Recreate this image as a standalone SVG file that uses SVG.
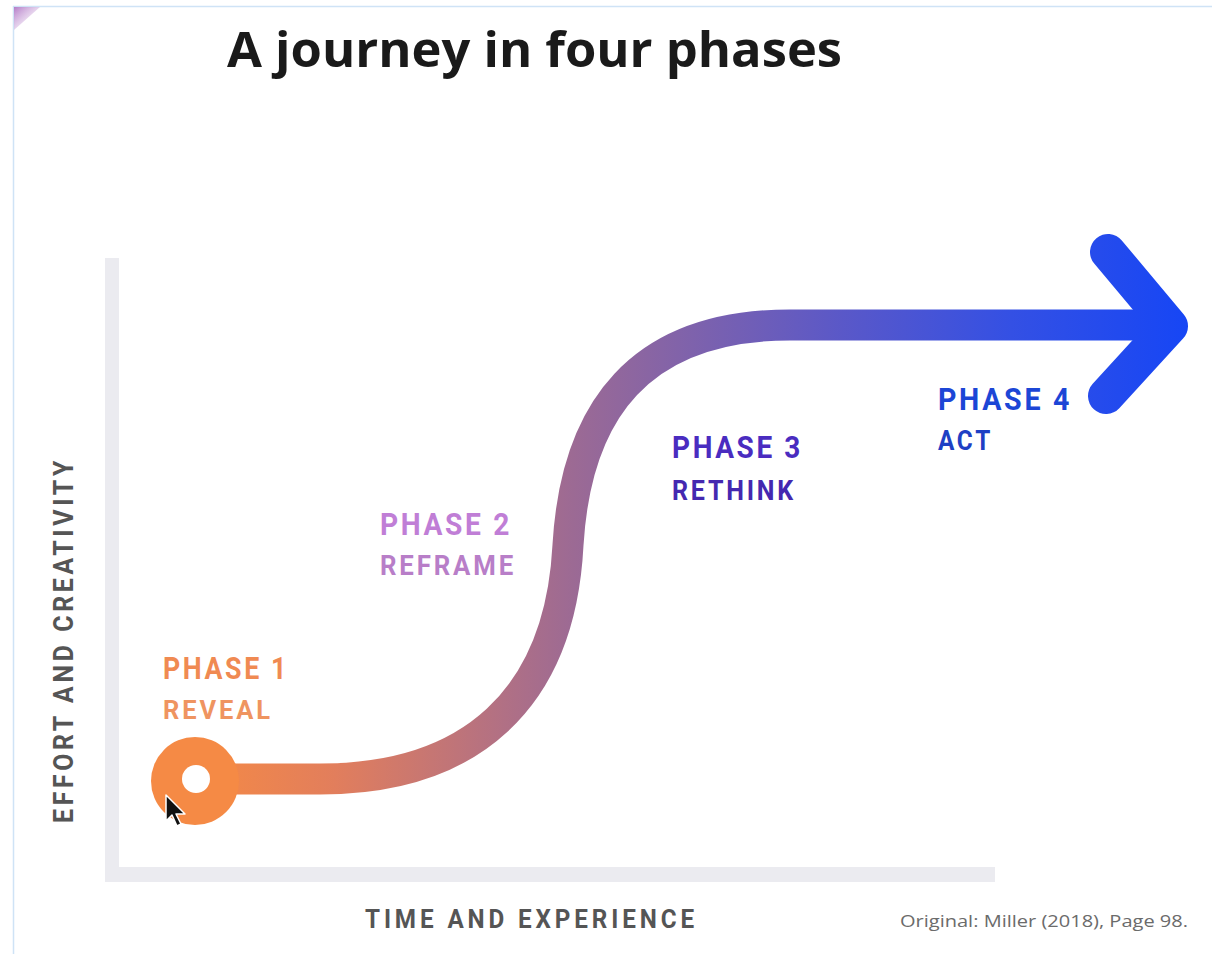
<svg xmlns="http://www.w3.org/2000/svg" width="1212" height="954" viewBox="0 0 1212 954">
  <defs>
    <linearGradient id="flow" gradientUnits="userSpaceOnUse" x1="195" y1="0" x2="1190" y2="0">
      <stop offset="0" stop-color="#f58a45"/>
      <stop offset="0.14" stop-color="#e27e5c"/>
      <stop offset="0.3" stop-color="#b47182"/>
      <stop offset="0.38" stop-color="#9c6a94"/>
      <stop offset="0.5" stop-color="#7e62ac"/>
      <stop offset="0.65" stop-color="#5a58c8"/>
      <stop offset="0.82" stop-color="#3450e4"/>
      <stop offset="1" stop-color="#1646f5"/>
    </linearGradient>
    <linearGradient id="corner" x1="0" y1="0" x2="1" y2="1">
      <stop offset="0" stop-color="#b47cc8"/>
      <stop offset="1" stop-color="#e8d8f0" stop-opacity="0"/>
    </linearGradient>
    <style>
      .title { font-family: "Open Sans", "Liberation Sans", sans-serif; font-weight: 700; fill: #1a1a1a; }
      .axis { font-family: Roboto, "Liberation Sans", sans-serif; font-weight: 700; fill: #555555; letter-spacing: 4px; }
      .ph { font-family: Roboto, "Liberation Sans", sans-serif; font-weight: 700; letter-spacing: 3px; }
      .credit { font-family: "Open Sans", "Liberation Sans", sans-serif; font-weight: 400; fill: #6b6b6b; }
      .bar { fill: #ebebf0; }
      .flow { fill: none; stroke: url(#flow); stroke-width: 31; }
    </style>
  </defs>

  <rect x="0" y="0" width="1212" height="954" fill="#ffffff"/>
  <g id="frame">
    <line x1="13.5" y1="6" x2="13.5" y2="954" stroke="#cfe3f6" stroke-width="1.5"/>
    <line x1="13" y1="6.5" x2="1212" y2="6.5" stroke="#cfe3f6" stroke-width="1.5"/>
    <polygon points="14,7 40,7 14,30" fill="url(#corner)"/>
  </g>

  <g id="title">
    <text class="title" x="227" y="67" font-size="49" textLength="615" lengthAdjust="spacingAndGlyphs">A journey in four phases</text>
  </g>

  <g id="axes">
    <rect class="bar" x="105" y="258" width="14" height="624"/>
    <rect class="bar" x="105" y="867" width="890" height="15"/>
    <text class="axis" x="365" y="928" font-size="25" textLength="333" lengthAdjust="spacingAndGlyphs">TIME AND EXPERIENCE</text>
    <text class="axis" transform="translate(73,823) rotate(-90)" x="0" y="0" font-size="27" textLength="366" lengthAdjust="spacingAndGlyphs">EFFORT AND CREATIVITY</text>
  </g>

  <g id="connectors">
    <path class="flow" stroke-linecap="butt" d="M195,779 L320,779 C470,779 560,700 568,545 C576,410 640,325 790,325 L1168,325"/>
    <polyline fill="none" stroke="url(#flow)" stroke-width="36" stroke-linecap="round" stroke-linejoin="round" points="1108,252 1170,326 1106,396"/>
  </g>

  <g id="start">
    <circle cx="195" cy="781" r="44" fill="#f58a45"/>
    <circle cx="196" cy="779" r="14" fill="#ffffff"/>
  </g>

  <g id="phase1">
    <text class="ph" x="163" y="679" font-size="31" fill="#f08a52" textLength="126" lengthAdjust="spacingAndGlyphs">PHASE 1</text>
    <text class="ph" x="163" y="719" font-size="26" fill="#ef9460" textLength="110" lengthAdjust="spacingAndGlyphs">REVEAL</text>
  </g>
  <g id="phase2">
    <text class="ph" x="380" y="535" font-size="32" fill="#c07ed6" textLength="132" lengthAdjust="spacingAndGlyphs">PHASE 2</text>
    <text class="ph" x="380" y="575" font-size="27" fill="#b87ec8" textLength="136" lengthAdjust="spacingAndGlyphs">REFRAME</text>
  </g>
  <g id="phase3">
    <text class="ph" x="672" y="458" font-size="32" fill="#4a2cc0" textLength="131" lengthAdjust="spacingAndGlyphs">PHASE 3</text>
    <text class="ph" x="672" y="500" font-size="27" fill="#4428b0" textLength="124" lengthAdjust="spacingAndGlyphs">RETHINK</text>
  </g>
  <g id="phase4">
    <text class="ph" x="938" y="410" font-size="32" fill="#1c46d6" textLength="134" lengthAdjust="spacingAndGlyphs">PHASE 4</text>
    <text class="ph" x="938" y="450" font-size="27" fill="#1e40c4" textLength="55" lengthAdjust="spacingAndGlyphs">ACT</text>
  </g>

  <g id="credit">
    <text class="credit" x="900" y="927" font-size="17" textLength="288" lengthAdjust="spacingAndGlyphs">Original: Miller (2018), Page 98.</text>
  </g>

  <g id="cursor">
    <polygon points="166,795 166,821 172,815 177,826 181,824 176,814 185,814" fill="#111111" stroke="#ffffff" stroke-width="1.5" stroke-linejoin="round"/>
  </g>
</svg>
